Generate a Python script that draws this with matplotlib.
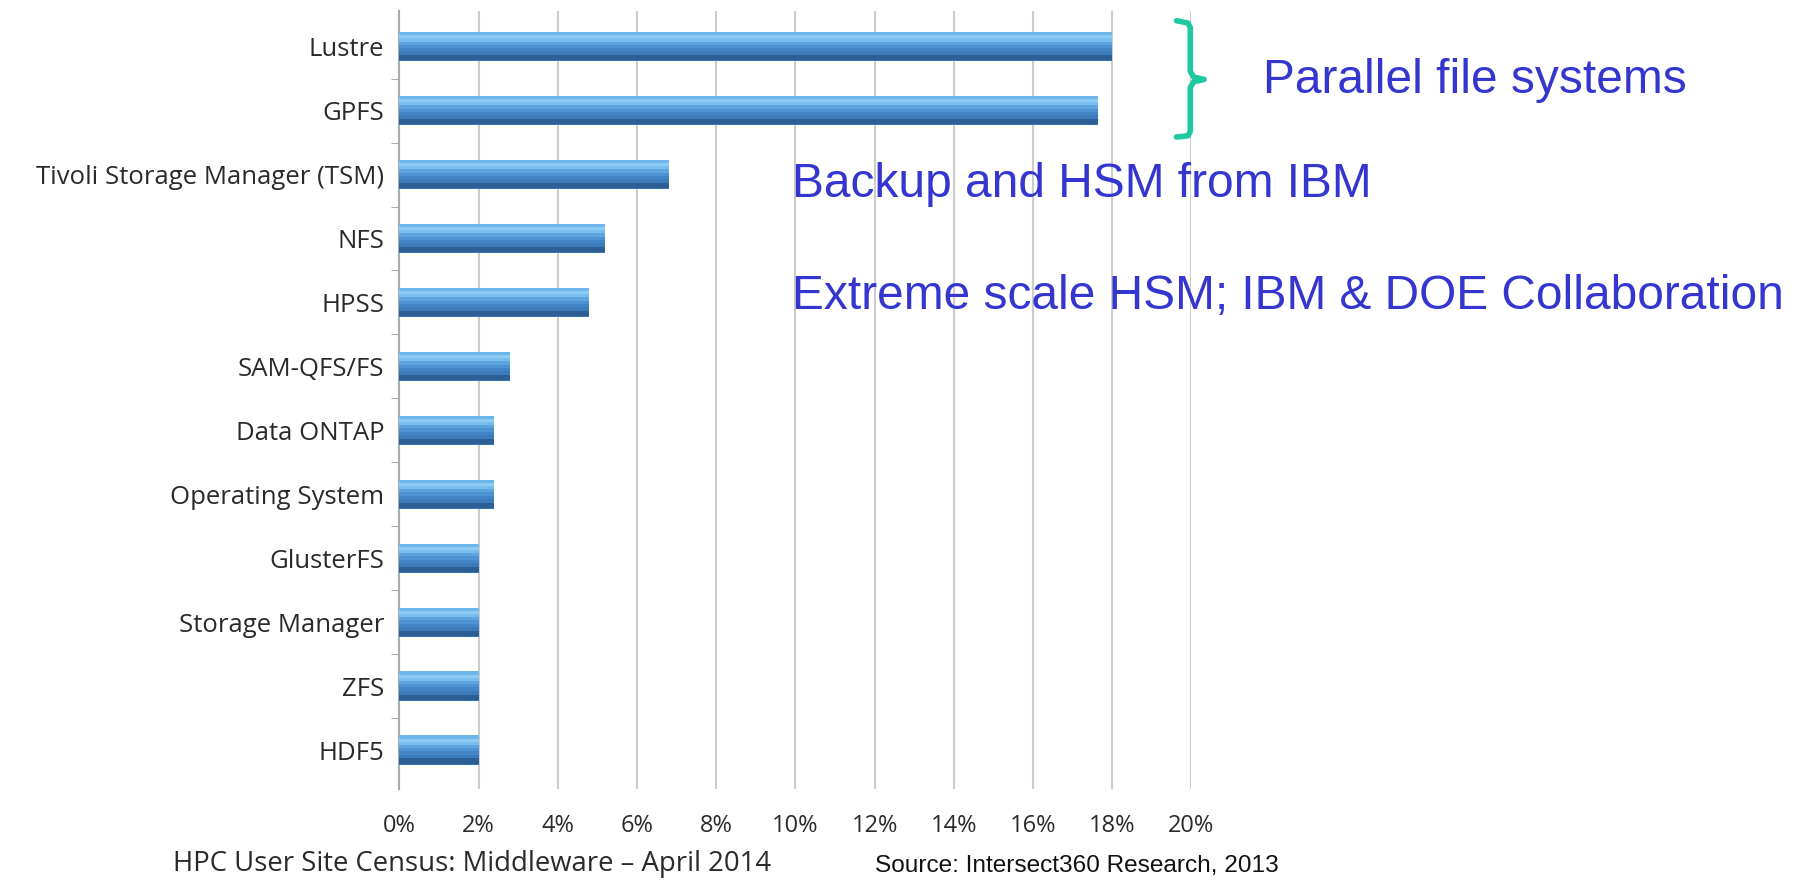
import matplotlib.pyplot as plt
import matplotlib as mpl
import numpy as np
from matplotlib.ticker import FuncFormatter, FixedLocator

mpl.rcParams['font.family'] = ['Open Sans', 'DejaVu Sans']

systems = ['Lustre', 'GPFS', 'Tivoli Storage Manager (TSM)', 'NFS', 'HPSS', 'SAM-QFS/FS',
           'Data ONTAP', 'Operating System', 'GlusterFS', 'Storage Manager', 'ZFS', 'HDF5']
share = [18.0, 17.65, 6.8, 5.2, 4.8, 2.8, 2.4, 2.4, 2.0, 2.0, 2.0, 2.0]
x_ticks = [0, 2, 4, 6, 8, 10, 12, 14, 16, 18, 20]

fig = plt.figure(figsize=(18.05, 8.83), dpi=100)
ax = fig.add_axes([0.2213, 0.107, 0.4387, 0.880])

y = np.arange(len(systems))
# cylinder-ish bars: layered bands from light (top) to dark (bottom)
bh = 0.46
ax.barh(y, share, height=bh, color='#3573b0', zorder=3, edgecolor='none')
bands = [(-0.20, 0.06, '#6fb6ea'), (-0.15, 0.06, '#8ccbf4'), (-0.10, 0.06, '#78bdee'),
         (-0.05, 0.06, '#5ea5df'), (0.00, 0.06, '#4d93d1'), (0.05, 0.06, '#4486c5'),
         (0.10, 0.06, '#3b7abb'), (0.17, 0.08, '#2c5f96')]
for off, h, c in bands:
    ax.barh(y + off, share, height=h, color=c, zorder=4, edgecolor='none')

ax.set_xlim(0, 20)
ax.set_ylim(11.6, -0.55)
ax.set_xticks(x_ticks)
ax.xaxis.set_major_formatter(FuncFormatter(lambda v, p: f'{v:.0f}%'))
ax.set_yticks(y)
ax.set_yticklabels(systems)
ax.yaxis.set_minor_locator(FixedLocator(np.arange(0.5, 11, 1)))
ax.tick_params(axis='y', which='major', length=0, labelsize=18.5, labelcolor='#2a2a2a', pad=11)
ax.tick_params(axis='y', which='minor', length=6, color='#999999', direction='out')
ax.tick_params(axis='x', length=0, labelsize=17, labelcolor='#2a2a2a', pad=18)
ax.grid(axis='x', color='#cccccc', linewidth=1.5, zorder=0)
for s in ['top', 'right', 'bottom']:
    ax.spines[s].set_visible(False)
ax.spines['left'].set_color('#aaaaaa')
ax.spines['left'].set_linewidth(1.5)

blue = '#3535d0'
arial = ['Liberation Sans', 'DejaVu Sans']
fig.text(0.6996, 0.909, 'Parallel file systems', fontsize=34.5, color=blue,
         family=arial, va='center')
fig.text(0.4388, 0.791, 'Backup and HSM from IBM', fontsize=34.5, color=blue,
         family=arial, va='center')
fig.text(0.4388, 0.664, 'Extreme scale HSM; IBM & DOE Collaboration', fontsize=34.5, color=blue,
         family=arial, va='center')

# curly brace
bx = np.array([1022, 1032, 1034, 1034, 1037, 1046, 1037, 1034, 1034, 1032, 1022]) / 1568
by = 1 - np.array([18, 20, 24, 62, 67, 69, 71, 76, 114, 118, 119]) / 767
fig.add_artist(plt.Line2D(bx, by, color='#1ec8a0', linewidth=4, solid_capstyle='round',
                          solid_joinstyle='round'))

fig.text(0.0957, 0.022, 'HPC User Site Census: Middleware \u2013 April 2014', fontsize=19.8,
         color='#2a2a2a', va='center')
fig.text(0.4847, 0.0196, 'Source: Intersect360 Research, 2013', fontsize=17.6, color='#111111',
         family=arial, va='center')

plt.savefig('out.png', dpi=100)
plt.close()
